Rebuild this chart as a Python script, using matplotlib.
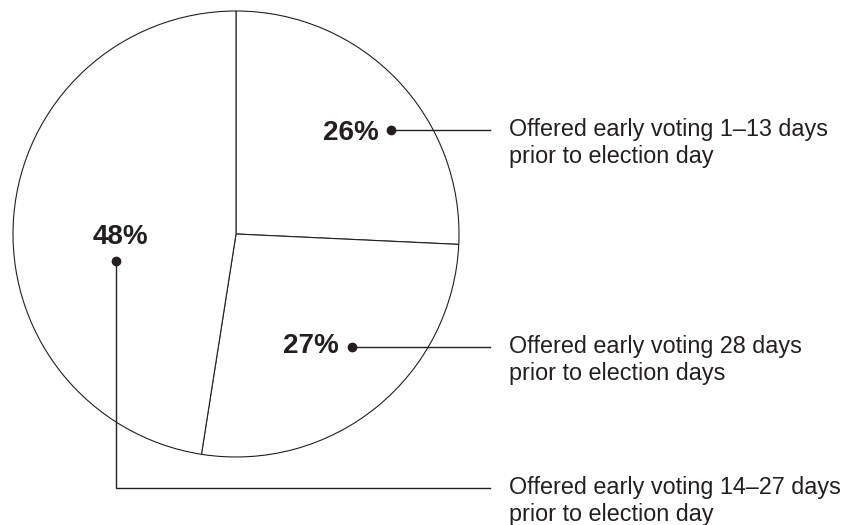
"""Early voting pie chart."""
import matplotlib.pyplot as plt

plt.rcParams['font.family'] = ['Liberation Sans', 'DejaVu Sans']

INK = '#231f20'

# data
shares = [26, 27, 48]
pct_labels = ['26%', '27%', '48%']
descriptions = [
    'Offered early voting 1\u201313 days\nprior to election day',
    'Offered early voting 28 days\nprior to election days',
    'Offered early voting 14\u201327 days\nprior to election day',
]

W, H = 852, 525
fig = plt.figure(figsize=(W / 100, H / 100), dpi=100)
ax = fig.add_axes([0, 0, 1, 1])

cx, cy, r = 236, H - 234, 223
ax.pie(
    shares,
    center=(cx, cy),
    radius=r,
    startangle=90,
    counterclock=False,
    wedgeprops=dict(facecolor='white', edgecolor=INK, linewidth=0.8),
)

# dot position, label position and leader path for each slice
dots = [(391, 130), (352, 347), (116, 261)]
pct_pos = [(379, 133, 'right'), (339, 346, 'right'), (120, 237, 'center')]
leaders = [
    [(391, 130), (490, 130)],
    [(352, 347), (490, 347)],
    [(116, 261), (116, 488), (490, 488)],
]
desc_y = [130, 347, 488]

for i in range(len(shares)):
    px, py, ha = pct_pos[i]
    ax.text(px, H - py, pct_labels[i], ha=ha, va='center',
            fontsize=20, fontweight='bold', color=INK)
    xs = [p[0] for p in leaders[i]]
    ys = [H - p[1] for p in leaders[i]]
    ax.plot(xs, ys, color=INK, lw=1.0, solid_joinstyle='miter')
    ax.plot(dots[i][0], H - dots[i][1], 'o', color=INK, ms=6)
    ax.text(509, H - desc_y[i] + 12, descriptions[i], ha='left', va='top',
            fontsize=16.8, color=INK, linespacing=1.22)

ax.set_xlim(0, W)
ax.set_ylim(0, H)
ax.set_aspect('equal')
ax.axis('off')

plt.savefig('out.png', dpi=100, facecolor='white')
